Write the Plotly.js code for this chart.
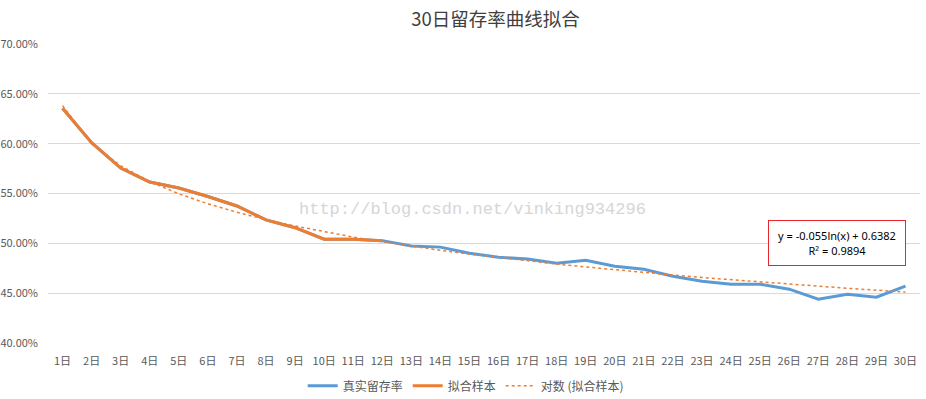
<!DOCTYPE html>
<html>
<head>
<meta charset="utf-8">
<script src="https://cdn.plot.ly/plotly-3.0.1.min.js"></script>
<style>html,body{margin:0;padding:0;background:#fff;}#chart{width:926px;height:399px;}</style>
</head>
<body>
<div id="chart"></div>
<script>
const days = ['1日','2日','3日','4日','5日','6日','7日','8日','9日','10日','11日','12日','13日','14日','15日','16日','17日','18日','19日','20日','21日','22日','23日','24日','25日','26日','27日','28日','29日','30日'];
const realRetention = [0.6355,0.6010,0.5755,0.5615,0.5555,0.5470,0.5375,0.5235,0.5157,0.5041,0.5041,0.5027,0.4974,0.4962,0.4900,0.4860,0.4842,0.4800,0.4830,0.4770,0.4740,0.4670,0.4620,0.4590,0.4590,0.4540,0.4440,0.4490,0.4460,0.4570];
const fitDays = days.slice(0, 12);
const fitSample = [0.6355,0.6010,0.5755,0.5615,0.5555,0.5470,0.5375,0.5235,0.5157,0.5041,0.5041,0.5027];
const logTrend = [0.6382,0.6001,0.5778,0.5620,0.5497,0.5397,0.5312,0.5238,0.5174,0.5116,0.5063,0.5015,0.4971,0.4930,0.4893,0.4857,0.4824,0.4792,0.4763,0.4734,0.4708,0.4682,0.4657,0.4634,0.4612,0.4590,0.4569,0.4549,0.4530,0.4511];
const yTicks = [0.40,0.45,0.50,0.55,0.60,0.65,0.70];
const chartTitle = '30日留存率曲线拟合';
const equationText = 'y = -0.055ln(x) + 0.6382<br>R² = 0.9894';
const watermark = 'http://blog.csdn.net/vinking934296';

const font = '"Noto Sans CJK SC", "Noto Sans", sans-serif';
const traces = [
  {x: days, y: realRetention, name: '真实留存率', type: 'scatter', mode: 'lines',
   line: {color: '#5B9BD5', width: 3}},
  {x: fitDays, y: fitSample, name: '拟合样本', type: 'scatter', mode: 'lines',
   line: {color: '#ED7D31', width: 3}},
  {x: days, y: logTrend, name: '对数 (拟合样本)', type: 'scatter', mode: 'lines',
   line: {color: '#ED7D31', width: 1.5, dash: 'dot'}}
];
const layout = {
  width: 926, height: 399,
  margin: {l: 48, r: 6, t: 44, b: 56, autoexpand: false},
  paper_bgcolor: '#fff', plot_bgcolor: '#fff',
  font: {family: font, color: '#595959', size: 11},
  title: {text: chartTitle, xref: 'container', x: 0.535, xanchor: 'center', y: 0.951, yanchor: 'middle',
          font: {family: font, size: 18.5, color: '#404040'}},
  showlegend: true,
  legend: {orientation: 'h', x: 0.479, xanchor: 'center', yref: 'container', y: 0.033, yanchor: 'middle',
           font: {family: font, size: 12, color: '#595959'}, tracegroupgap: 0},
  xaxis: {type: 'category', range: [-0.5, 29.5], showgrid: false, zeroline: false,
          showline: false, ticks: '', tickfont: {family: font, size: 11, color: '#595959'},
          ticklabelstandoff: 10, fixedrange: true},
  yaxis: {range: [0.40, 0.70], tickvals: yTicks, tickformat: '.2%', showgrid: true,
          gridcolor: '#d9d9d9', gridwidth: 1, zeroline: false, showline: false, ticks: '',
          tickfont: {family: font, size: 11, color: '#595959'}, ticklabelstandoff: 9, fixedrange: true},
  annotations: [
    {text: watermark, xref: 'paper', yref: 'paper', x: 0.487, y: 0.445, showarrow: false,
     xanchor: 'center', yanchor: 'middle', font: {family: '"Liberation Mono", monospace', size: 17, color: '#d6d6d6'}},
    {text: equationText, xref: 'paper', yref: 'paper', x: 0.905, y: 0.334, showarrow: false,
     xanchor: 'center', yanchor: 'middle', align: 'center', bordercolor: '#e8262b', borderwidth: 1,
     width: 134, height: 42, bgcolor: '#ffffff',
     font: {family: '"Noto Sans", sans-serif', size: 11, color: '#000'}}
  ]
};
Plotly.newPlot('chart', traces, layout, {displayModeBar: false, staticPlot: true});
</script>
</body>
</html>
